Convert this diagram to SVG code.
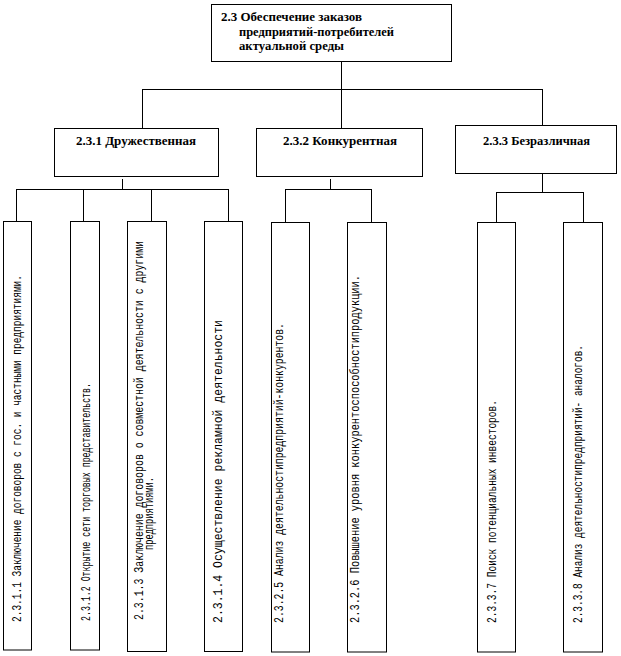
<svg xmlns="http://www.w3.org/2000/svg" width="621" height="656" viewBox="0 0 621 656" xml:space="preserve">
<style>
.box{fill:#fff;stroke:#000;stroke-width:1}
.ln{fill:none;stroke:#000;stroke-width:1}
.h{font-family:'Liberation Serif','DejaVu Serif',serif;font-weight:bold;font-size:12.5px;fill:#000}
.v{font-family:'Liberation Mono','DejaVu Sans Mono',monospace;font-size:12.5px;fill:#000}
</style>
<rect width="621" height="656" fill="#fff"/>
<g id="connectors" class="ln">
<path d="M341.5 61V128M142.5 89.5H542.5M142.5 89V128M542.5 89V125"/>
<path d="M122.5 179V189.5M16.5 189.5H228.5M16.5 189V221M83.5 189V221M151.5 189V221M228.5 189V221"/>
<path d="M330.5 179V189.5M285.5 189.5H371.5M285.5 189V222M371.5 189V222"/>
<path d="M542.5 173V192.5M496.5 192.5H583.5M496.5 192V222M583.5 192V222"/>
</g>
<g id="n2_3">
<rect class="box" x="211.5" y="4.5" width="240" height="57"/>
<text class="h" x="221" y="21" textLength="141" lengthAdjust="spacingAndGlyphs">2.3  Обеспечение заказов</text>
<text class="h" x="239" y="35.5" textLength="155" lengthAdjust="spacingAndGlyphs">предприятий-потребителей</text>
<text class="h" x="239" y="49.5" textLength="105" lengthAdjust="spacingAndGlyphs">актуальной среды</text>
</g>
<g id="n2_3_1">
<rect class="box" x="54.5" y="128.5" width="164" height="48"/>
<text class="h" x="76" y="145" textLength="120" lengthAdjust="spacingAndGlyphs">2.3.1  Дружественная</text>
</g>
<g id="n2_3_2">
<rect class="box" x="256.5" y="128.5" width="166" height="48"/>
<text class="h" x="283" y="145" textLength="114" lengthAdjust="spacingAndGlyphs">2.3.2  Конкурентная</text>
</g>
<g id="n2_3_3">
<rect class="box" x="455.5" y="125.5" width="161" height="48"/>
<text class="h" x="483" y="144.5" textLength="107" lengthAdjust="spacingAndGlyphs">2.3.3  Безразличная</text>
</g>
<g id="n2_3_1_1">
<rect class="box" x="3.5" y="221.5" width="28" height="428.5"/>
<text class="v" transform="translate(21,622) rotate(-90)" textLength="347" lengthAdjust="spacingAndGlyphs">2.3.1.1 Заключение договоров с гос. и  частными предприятиями.</text>
</g>
<g id="n2_3_1_2">
<rect class="box" x="70.5" y="221.5" width="29" height="428.5"/>
<text class="v" transform="translate(89.5,621) rotate(-90)" textLength="238" lengthAdjust="spacingAndGlyphs">2.3.1.2 Открытие сети торговых представительств.</text>
</g>
<g id="n2_3_1_3">
<rect class="box" x="127.5" y="221.5" width="39" height="430"/>
<text class="v" transform="translate(143,620) rotate(-90)" textLength="379" lengthAdjust="spacingAndGlyphs">2.3.1.3   Заключение договоров о совместной деятельности с другими</text>
<text class="v" transform="translate(153,550) rotate(-90)" textLength="73" lengthAdjust="spacingAndGlyphs">предприятиями.</text>
</g>
<g id="n2_3_1_4">
<rect class="box" x="204.5" y="221.5" width="38" height="430"/>
<text class="v" transform="translate(221.5,623) rotate(-90)" textLength="303" lengthAdjust="spacingAndGlyphs">2.3.1.4  Осуществление рекламной деятельности</text>
</g>
<g id="n2_3_2_5">
<rect class="box" x="271.5" y="222.5" width="38" height="429.5"/>
<text class="v" transform="translate(283,623) rotate(-90)" textLength="300" lengthAdjust="spacingAndGlyphs">2.3.2.5   Анализ деятельностипредприятий-конкурентов.</text>
</g>
<g id="n2_3_2_6">
<rect class="box" x="347.5" y="222.5" width="39" height="429.5"/>
<text class="v" transform="translate(358.5,623) rotate(-90)" textLength="348" lengthAdjust="spacingAndGlyphs">2.3.2.6 Повышение уровня  конкурентоспособностипродукции.</text>
</g>
<g id="n2_3_3_7">
<rect class="box" x="477.5" y="222.5" width="38" height="429.5"/>
<text class="v" transform="translate(496,623) rotate(-90)" textLength="223" lengthAdjust="spacingAndGlyphs">2.3.3.7   Поиск потенциальных инвесторов.</text>
</g>
<g id="n2_3_3_8">
<rect class="box" x="563.5" y="222.5" width="39" height="429.5"/>
<text class="v" transform="translate(582,623) rotate(-90)" textLength="278" lengthAdjust="spacingAndGlyphs">2.3.3.8   Анализ деятельностипредприятий- аналогов.</text>
</g>
</svg>
